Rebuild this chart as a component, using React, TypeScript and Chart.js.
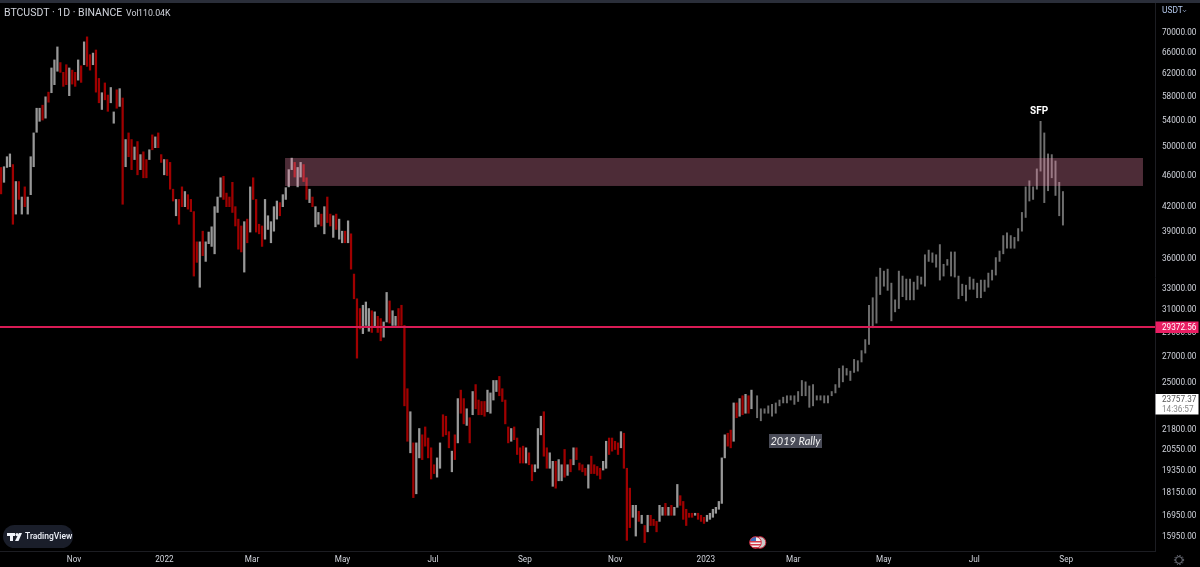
import { useEffect, useRef } from "react"
import { Chart, registerables } from "chart.js"

Chart.register(...registerables)

// x axis is days counted from 1 Nov 2021
const xTickDays = [0, 61, 120, 181, 242, 304, 365, 426, 485, 546, 607, 669]
const xTickLabels = ["Nov", "2022", "Mar", "May", "Jul", "Sep", "Nov", "2023", "Mar", "May", "Jul", "Sep"]
const yTicks = [
  70000, 66000, 62000, 58000, 54000, 50000, 46000, 42000, 39000, 36000, 33000, 31000, 29000, 27000, 25000, 21800,
  20550, 19350, 18150, 16950, 15950,
]

const levelPrice = 29372.56
const lastPrice = "23757.37"
const countdown = "14:36:57"
const zoneDays = [142.3, 720.8]
const zonePrices = [44420, 48220]

// real candles, one every two days
const candleHigh = [
  46900, 47000, 48400, 48800, 47300, 45000, 45000, 43000, 44300, 43000,
  48400, 51900, 55800, 55800, 56300, 57700, 58500, 62800, 64300, 66800,
  63800, 62000, 63400, 62800, 62400, 62000, 64300, 63200, 67800, 68800,
  65300, 65600, 66200, 60900, 58400, 60100, 58000, 59300, 55200, 58900,
  59100, 57500, 50900, 51900, 50900, 49800, 50600, 48700, 49100, 48000,
  49400, 51600, 51300, 51900, 48700, 48000, 48000, 47600, 44000, 42700,
  42700, 44300, 43700, 43300, 42700, 41200, 37700, 37700, 38900, 37700,
  38800, 39400, 41800, 43000, 45500, 45700, 43500, 43000, 44900, 41800,
  40300, 39500, 40000, 40300, 44300, 45500, 42700, 39700, 39500, 42700,
  40700, 40000, 41800, 42500, 42300, 43300, 44200, 46600, 48200, 47600,
  46900, 47600, 47300, 45500, 44000, 43000, 41800, 41100, 40900, 41800,
  43000, 40900, 40700, 40900, 40300, 38900, 38900, 40100, 38600, 34300,
  31900, 31000, 31300, 31600, 31000, 30800, 30700, 30300, 30100, 29800,
  32500, 31700, 30800, 30300, 31000, 31300, 29500, 24500, 22900, 20900,
  20900, 21800, 21400, 21900, 21200, 20600, 19600, 20000, 20900, 22700,
  22600, 21600, 20400, 21400, 23800, 24400, 23800, 23100, 22500, 24300,
  24800, 23700, 23600, 23600, 24400, 24200, 25100, 25100, 25400, 24500,
  23700, 21900, 21800, 21900, 21200, 20600, 20700, 20600, 20300, 19600,
  19600, 21800, 22600, 22900, 20600, 20300, 19800, 19800, 19900, 19600,
  20500, 19600, 19900, 20600, 20600, 19700, 19600, 19400, 19600, 20100,
  19600, 19500, 19400, 19800, 21000, 21200, 21200, 21000, 20900, 21600,
  21500, 19400, 18300, 17400, 17400, 17100, 16900, 16400, 16900, 16900,
  16700, 16600, 17400, 17300, 17500, 17300, 17400, 17300, 18500, 17900,
  17600, 17200, 17000, 17000, 17000, 17000, 16900, 16800, 16900, 17000,
  17200, 17300, 17600, 20000, 21400, 21500, 21700, 23500, 23500, 23800,
  24000, 24100, 24000, 24400,
]
const candleLow = [
  43400, 44900, 46900, 47000, 39700, 40900, 42700, 40900, 41800, 40900,
  43300, 47000, 52000, 53700, 53900, 54200, 56800, 58400, 59800, 62200,
  62000, 59500, 59800, 57900, 59900, 59500, 60600, 60200, 63400, 63100,
  62400, 63400, 58500, 56700, 55600, 57200, 55300, 56700, 53400, 55800,
  56100, 42100, 47000, 48400, 46600, 48000, 45900, 46600, 45500, 45500,
  48000, 49400, 49700, 49700, 47600, 45900, 45800, 44000, 42500, 40700,
  39700, 41800, 41800, 41500, 41200, 34100, 35500, 33000, 36200, 35600,
  37500, 37200, 36400, 41100, 43000, 42700, 41800, 41800, 41100, 39500,
  36900, 36600, 34500, 37600, 38800, 42700, 38800, 38600, 37200, 38000,
  39100, 37600, 38900, 40300, 40700, 41800, 42700, 44300, 46600, 45600,
  44300, 45600, 45000, 42700, 42300, 41800, 39400, 39700, 39500, 38600,
  39900, 39500, 38200, 39100, 38000, 37600, 37600, 37600, 34800, 31900,
  26800, 29200, 28800, 29500, 29000, 28900, 29400, 28900, 28200, 28500,
  29800, 29700, 29500, 29500, 29400, 29500, 23300, 21000, 20300, 17800,
  18000, 20000, 19900, 20700, 20000, 18800, 19100, 18900, 19400, 21300,
  21400, 20600, 19200, 19900, 20900, 22800, 22100, 22000, 20900, 22700,
  23100, 22700, 22700, 22600, 22900, 22800, 23700, 24300, 24000, 23600,
  22100, 20900, 21000, 21100, 20200, 19700, 19700, 19700, 19600, 18700,
  19200, 19400, 21400, 20100, 19400, 19400, 18400, 18300, 18700, 18700,
  18900, 19000, 19200, 19600, 19900, 19300, 19200, 19000, 18300, 19100,
  19100, 19000, 18800, 19300, 19400, 20200, 20400, 20500, 20200, 20600,
  19400, 15700, 16300, 16800, 15900, 16600, 16500, 15600, 16100, 16400,
  16400, 16100, 16600, 16900, 16900, 16900, 16900, 16900, 17300, 17400,
  16700, 16400, 16800, 16800, 16900, 16700, 16600, 16500, 16600, 16700,
  16800, 17000, 17200, 17500, 20000, 20700, 20600, 21000, 22500, 22600,
  22700, 22800, 22800, 23100,
]
// 1 = grey candle, 0 = red candle
const candleUp = [
  0, 1, 1, 1, 0, 1, 0, 1, 0, 1,
  1, 1, 1, 1, 0, 1, 0, 1, 1, 1,
  0, 0, 0, 1, 0, 0, 1, 0, 1, 0,
  0, 1, 0, 0, 1, 0, 0, 1, 1, 0,
  1, 0, 1, 0, 0, 1, 0, 1, 0, 0,
  1, 0, 1, 0, 0, 1, 0, 0, 0, 1,
  0, 0, 1, 0, 0, 0, 0, 1, 0, 1,
  1, 1, 1, 1, 1, 0, 0, 0, 0, 0,
  0, 0, 1, 0, 1, 0, 0, 0, 0, 1,
  1, 1, 1, 1, 0, 1, 1, 1, 1, 0,
  1, 1, 0, 0, 1, 0, 1, 1, 0, 1,
  0, 0, 1, 0, 1, 1, 0, 1, 0, 0,
  0, 0, 1, 1, 1, 0, 1, 0, 0, 1,
  1, 0, 1, 1, 0, 0, 0, 0, 1, 0,
  1, 1, 0, 0, 0, 0, 0, 1, 1, 0,
  0, 0, 1, 0, 1, 0, 0, 1, 0, 1,
  0, 0, 0, 0, 1, 1, 1, 1, 0, 0,
  0, 0, 1, 0, 0, 0, 0, 1, 0, 0,
  1, 1, 1, 0, 0, 1, 1, 0, 1, 1,
  0, 1, 0, 1, 0, 0, 0, 0, 1, 0,
  0, 0, 0, 1, 1, 0, 0, 0, 0, 1,
  0, 0, 0, 1, 1, 0, 1, 0, 1, 0,
  0, 0, 1, 1, 0, 1, 0, 1, 1, 0,
  0, 0, 0, 0, 1, 0, 0, 0, 1, 1,
  1, 1, 1, 1, 1, 0, 0, 1, 0, 1,
  0, 1, 0, 1,
]

// the faded 2019 fractal pasted after the last candle
const ghostHigh = [
  24000, 23100, 23100, 23300, 23400, 23500, 23700, 23900, 24000, 24000,
  24000, 24300, 25100, 25000, 24700, 24800, 24000, 24000, 24000, 24000,
  24300, 24800, 26000, 26200, 26000, 25800, 26700, 26600, 27400, 28300,
  31300, 32000, 34000, 34900, 34600, 34800, 33400, 31800, 34600, 34100,
  33800, 33800, 33500, 34100, 34000, 36300, 36800, 36500, 36300, 37400,
  35300, 35800, 36600, 36600, 34100, 33300, 33200, 34000, 33800, 33400,
  33700, 33700, 34400, 34700, 36000, 36700, 38400, 38700, 38400, 38200,
  39200, 41100, 44300, 45100, 44300, 46700, 53700, 51900, 48800, 48700,
  47800, 44900, 43700,
]
const ghostLow = [
  22500, 22300, 22800, 22800, 22600, 22800, 23300, 23500, 23500, 23700,
  23400, 23600, 24000, 24000, 23200, 23300, 23700, 23700, 23500, 23500,
  24000, 24200, 24600, 25000, 25500, 25100, 25700, 25800, 26500, 27200,
  27900, 29300, 29700, 32300, 33100, 32700, 29900, 30700, 31000, 32100,
  31800, 31800, 31800, 32800, 33300, 33100, 35600, 35500, 35000, 33700,
  34100, 35200, 34100, 34000, 31900, 32200, 31700, 32800, 32800, 32000,
  32000, 32600, 33000, 33700, 34200, 35600, 36400, 37000, 37000, 37000,
  37800, 38900, 40500, 42500, 42700, 44000, 46400, 42300, 43800, 45500,
  43200, 40700, 39600,
]

const candleStartDay = -49.2
const candleStepDays = 2
const ghostStartDay = 460.6
const ghostStepDays = 2.515

const FONT = "Roboto, sans-serif"

const decorations = {
  id: "decorations",
  beforeDraw(chart: any) {
    const { ctx, width, height } = chart
    ctx.save()
    ctx.fillStyle = "#000"
    ctx.fillRect(0, 0, width, height)
    ctx.fillStyle = "#2a2e39"
    ctx.fillRect(0, 0, width, 3)
    ctx.restore()
  },
  afterDatasetsDraw(chart: any) {
    const { ctx, scales } = chart
    const x = scales.x
    const y = scales.y
    ctx.save()

    // resistance zone
    const zx0 = x.getPixelForValue(zoneDays[0])
    const zx1 = x.getPixelForValue(zoneDays[1])
    const zy0 = y.getPixelForValue(zonePrices[1])
    const zy1 = y.getPixelForValue(zonePrices[0])
    ctx.fillStyle = "rgba(255,147,183,0.3)"
    ctx.fillRect(zx0, zy0, zx1 - zx0, zy1 - zy0)

    ctx.textBaseline = "middle"
    ctx.textAlign = "left"

    // header
    ctx.fillStyle = "#d1d4dc"
    ctx.font = `10.5px ${FONT}`
    ctx.fillText("BTCUSDT · 1D · BINANCE", 4, 13.5)
    ctx.font = `8.8px ${FONT}`
    ctx.fillText("Vol", 126, 14)
    ctx.fillText("110.04K", 138, 14)

    // currency selector
    ctx.fillStyle = "#b4c8ec"
    ctx.font = `8.4px ${FONT}`
    ctx.fillText("USDT", 1162, 11)
    ctx.strokeStyle = "#a9bfe6"
    ctx.lineWidth = 0.8
    ctx.beginPath()
    ctx.moveTo(1183, 10.2)
    ctx.lineTo(1184.5, 11.7)
    ctx.lineTo(1186, 10.2)
    ctx.stroke()

    // SFP label
    ctx.fillStyle = "#fff"
    ctx.textAlign = "center"
    ctx.font = `bold 10px ${FONT}`
    ctx.fillText("SFP", x.getPixelForValue(650.7), y.getPixelForValue(55300))

    // 2019 Rally label
    ctx.fillStyle = "#4a4c58"
    ctx.fillRect(769, 434, 53, 14)
    ctx.fillStyle = "#f0f0f0"
    ctx.font = `italic 11px Lato, ${FONT}`
    ctx.fillText("2019 Rally", 795.5, 441.5)

    // level badge
    ctx.fillStyle = "#e91e63"
    ctx.fillRect(1155.5, 321.5, 43, 11.5)
    ctx.fillStyle = "#fff"
    ctx.textAlign = "left"
    ctx.font = `8.2px ${FONT}`
    ctx.fillText("29372.56", 1162, 328)

    // last price badge
    ctx.fillStyle = "#fff"
    ctx.fillRect(1155.5, 394, 43, 20.5)
    ctx.fillStyle = "#555"
    ctx.fillText(lastPrice, 1162, 400)
    ctx.fillStyle = "#888"
    ctx.fillText(countdown, 1162, 409.5)

    // TradingView pill
    ctx.fillStyle = "#1a1e2a"
    ctx.beginPath()
    ctx.roundRect(3, 525, 70, 23, 11.5)
    ctx.fill()
    ctx.fillStyle = "#f0f3fa"
    ctx.fillRect(7, 533, 8, 3)
    ctx.fillRect(10, 533, 3, 8)
    ctx.beginPath()
    ctx.arc(17, 534.6, 1.6, 0, Math.PI * 2)
    ctx.fill()
    ctx.beginPath()
    ctx.moveTo(19, 533)
    ctx.lineTo(22, 533)
    ctx.lineTo(18.5, 541)
    ctx.lineTo(15, 541)
    ctx.closePath()
    ctx.fill()
    ctx.font = `500 8.5px ${FONT}`
    ctx.fillText("TradingView", 25, 537)

    // flag marker, back then front
    ctx.fillStyle = "#c9c9c9"
    ctx.strokeStyle = "#d02a40"
    ctx.lineWidth = 1
    ctx.beginPath()
    ctx.arc(760, 542.5, 5.8, 0, Math.PI * 2)
    ctx.fill()
    ctx.stroke()
    ctx.beginPath()
    ctx.arc(755.5, 542.5, 5.8, 0, Math.PI * 2)
    ctx.fillStyle = "#f2f2f2"
    ctx.fill()
    ctx.save()
    ctx.clip()
    ctx.fillStyle = "#d33a4a"
    ctx.fillRect(749, 541, 13, 1.5)
    ctx.fillRect(749, 544, 13, 1.5)
    ctx.fillRect(749, 547, 13, 1.5)
    ctx.fillStyle = "#3c6fc0"
    ctx.fillRect(749, 536, 7, 5)
    ctx.restore()
    ctx.stroke()

    // gear
    ctx.strokeStyle = "#787b86"
    ctx.lineWidth = 1
    ctx.beginPath()
    ctx.arc(1179, 560, 3.4, 0, Math.PI * 2)
    ctx.stroke()
    ctx.setLineDash([1.2, 1.5])
    ctx.beginPath()
    ctx.arc(1179, 560, 4.6, 0, Math.PI * 2)
    ctx.stroke()
    ctx.restore()
  },
}

export default function App() {
  const chartRef = useRef<HTMLCanvasElement>(null)
  const chartInstance = useRef<Chart | null>(null)

  useEffect(() => {
    document.body.style.margin = "0"
    document.body.style.background = "#000"

    if (chartRef.current) {
      if (chartInstance.current) {
        chartInstance.current.destroy()
      }

      const ctx = chartRef.current.getContext("2d")

      if (ctx) {
        chartInstance.current = new Chart(ctx, {
          type: "bar",
          data: {
            datasets: [
              {
                type: "line",
                data: [
                  { x: -49.9, y: levelPrice },
                  { x: 728.9, y: levelPrice },
                ],
                borderColor: "#d81b55",
                borderWidth: 2,
                pointRadius: 0,
                order: 0,
              },
              {
                data: candleHigh.map((h, i) => ({
                  x: candleStartDay + i * candleStepDays,
                  y: [candleLow[i], h],
                })),
                backgroundColor: candleUp.map((u) => (u ? "#989898" : "#a00000")),
                barThickness: 1.6,
                order: 2,
              },
              {
                data: ghostHigh.map((h, i) => ({
                  x: ghostStartDay + i * ghostStepDays,
                  y: [ghostLow[i], h],
                })),
                backgroundColor: "#6f6f6f",
                barThickness: 1.3,
                order: 1,
              },
            ] as any,
          },
          options: {
            responsive: false,
            animation: false,
            grouped: false,
            layout: { padding: { top: 3 } },
            plugins: {
              legend: { display: false },
              tooltip: { enabled: false },
            },
            scales: {
              x: {
                type: "linear",
                min: -49.9,
                max: 728.9,
                offset: false,
                grid: { display: false, drawTicks: false },
                border: { display: true, color: "#1c1d22" },
                afterBuildTicks: (scale: any) => {
                  scale.ticks = xTickDays.map((v) => ({ value: v }))
                },
                afterFit: (scale: any) => {
                  scale.height = 16
                },
                ticks: {
                  autoSkip: false,
                  maxRotation: 0,
                  padding: 4,
                  color: "#d1d4dc",
                  font: { family: FONT, size: 8.2 },
                  callback: (value: any) => xTickLabels[xTickDays.indexOf(value)],
                },
              },
              y: {
                type: "logarithmic",
                position: "right",
                min: 15218,
                max: 75990,
                grid: { display: false, drawTicks: false },
                border: { display: true, color: "#1c1d22" },
                afterBuildTicks: (scale: any) => {
                  scale.ticks = yTicks.map((v) => ({ value: v }))
                },
                afterFit: (scale: any) => {
                  // no extra room for the end labels, the plot runs right up to the top strip
                  scale.width = 45
                  scale.paddingTop = 0
                  scale.paddingBottom = 0
                },
                ticks: {
                  autoSkip: false,
                  padding: 7,
                  labelOffset: 1.5,
                  color: "#d1d4dc",
                  font: { family: FONT, size: 8.2 },
                  callback: (value: any) => Number(value).toFixed(2),
                },
              },
            },
          } as any,
          plugins: [decorations],
        })
      }
    }

    return () => {
      if (chartInstance.current) {
        chartInstance.current.destroy()
        chartInstance.current = null
      }
    }
  }, [])

  return (
    <div style={{ width: 1200, height: 567, background: "#000" }}>
      <canvas ref={chartRef} width={1200} height={567} style={{ display: "block" }}></canvas>
    </div>
  )
}
